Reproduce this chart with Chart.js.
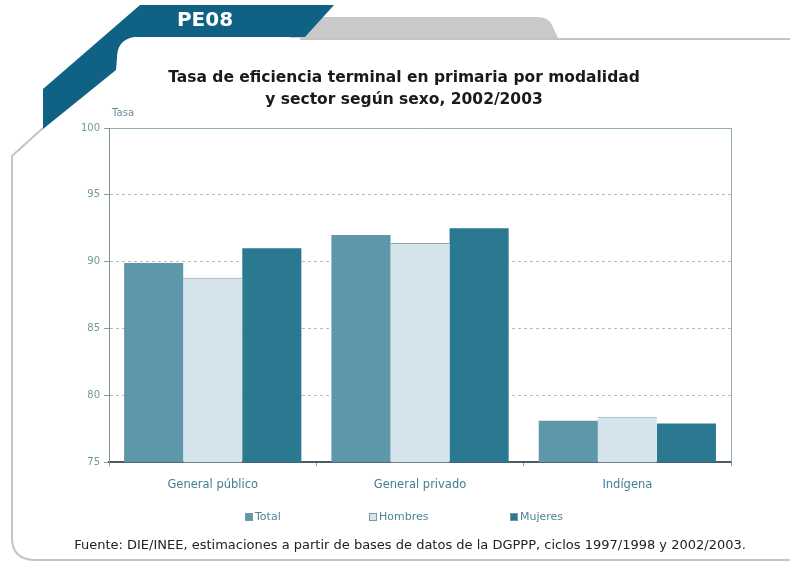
<!DOCTYPE html>
<html>
<head>
<meta charset="utf-8">
<script src="https://cdn.jsdelivr.net/npm/chart.js@4.4.1/dist/chart.umd.min.js"></script>
<style>
    html, body { margin: 0; padding: 0; background: #fff; }
    #wrap { position: relative; width: 790px; height: 563px; overflow: hidden; }
    #chart { position: absolute; left: 0; top: 0; }
    #code { position: absolute; left: 150px; top: 7px; width: 110px; text-align: center;
        font: bold 20px "DejaVu Sans", sans-serif; color: #fff; }
    #source { position: absolute; left: 0; top: 537px; width: 820px; text-align: center;
        font: 13px "DejaVu Sans", sans-serif; color: #222; white-space: nowrap; }
</style>
</head>
<body>
<div id="wrap">
    <canvas id="chart" width="790" height="563"></canvas>
    <div id="code">PE08</div>
    <div id="source">Fuente: DIE/INEE, estimaciones a partir de bases de datos de la DGPPP, ciclos 1997/1998 y 2002/2003.</div>
</div>
<script>
const categories = ['General público', 'General privado', 'Indígena'];
const seriesNames = ['Total', 'Hombres', 'Mujeres'];
const totalValues = [89.9, 92.0, 78.1];
const hombresValues = [88.8, 91.4, 78.4];
const mujeresValues = [91.0, 92.5, 77.9];
const yTicks = [75, 80, 85, 90, 95, 100];

const seriesColors = ['#5e96aa', '#d5e3eb', '#2a7990'];
const legendX = [245, 369, 510];

// panel frame, banner and grey tab behind the chart
const framePlugin = {
    id: 'frame',
    beforeDraw(chart) {
        const ctx = chart.ctx;
        ctx.save();
        ctx.fillStyle = '#fff';
        ctx.fillRect(0, 0, chart.width, chart.height);

        // grey tab
        ctx.fillStyle = '#c9c9c9';
        ctx.beginPath();
        ctx.moveTo(290, 17);
        ctx.lineTo(538, 17);
        ctx.quadraticCurveTo(548, 17, 552, 25);
        ctx.lineTo(558, 38);
        ctx.lineTo(290, 38);
        ctx.closePath();
        ctx.fill();

        // panel outline
        ctx.strokeStyle = '#c4c4c4';
        ctx.lineWidth = 2;
        ctx.beginPath();
        ctx.moveTo(790, 39);
        ctx.lineTo(300, 39);
        ctx.stroke();
        ctx.beginPath();
        ctx.moveTo(43, 128);
        ctx.lineTo(12, 156);
        ctx.lineTo(12, 538);
        ctx.quadraticCurveTo(12, 560, 36, 560);
        ctx.lineTo(790, 560);
        ctx.stroke();

        // dark banner
        ctx.fillStyle = '#0f6283';
        ctx.beginPath();
        ctx.moveTo(43, 129);
        ctx.lineTo(43, 89);
        ctx.lineTo(140, 5);
        ctx.lineTo(334, 5);
        ctx.lineTo(305, 37);
        ctx.lineTo(134, 37);
        ctx.quadraticCurveTo(117, 40, 117, 58);
        ctx.lineTo(116, 70);
        ctx.closePath();
        ctx.fill();
        ctx.restore();
    },
    afterDatasetsDraw(chart) {
        const ctx = chart.ctx;
        const a = chart.chartArea;
        ctx.save();
        ctx.strokeStyle = '#93adb6';
        ctx.lineWidth = 1;
        ctx.beginPath();
        ctx.moveTo(a.right + 0.5, a.top);
        ctx.lineTo(a.right + 0.5, a.bottom);
        ctx.stroke();
        ctx.restore();
    },
    afterDraw(chart) {
        const ctx = chart.ctx;
        const a = chart.chartArea;
        ctx.save();
        ctx.font = '10px "DejaVu Sans", sans-serif';
        ctx.fillStyle = '#6d8c9a';
        ctx.textBaseline = 'middle';
        ctx.fillText('Tasa', a.left + 3, a.top - 15);

        // legend
        ctx.font = '11px "DejaVu Sans", sans-serif';
        chart.data.datasets.forEach((ds, i) => {
            const x = legendX[i];
            const y = 517;
            ctx.fillStyle = ds.backgroundColor;
            ctx.fillRect(x, y - 4, 8, 8);
            ctx.strokeStyle = '#7e97a2';
            ctx.lineWidth = 1;
            ctx.strokeRect(x + 0.5, y - 3.5, 7, 7);
            ctx.fillStyle = '#4d8798';
            ctx.fillText(ds.label, x + 10, y);
        });
        ctx.restore();
    }
};

new Chart(document.getElementById('chart'), {
    type: 'bar',
    data: {
        labels: categories,
        datasets: [
            { label: seriesNames[0], data: totalValues, backgroundColor: seriesColors[0] },
            { label: seriesNames[1], data: hombresValues, backgroundColor: seriesColors[1],
                borderColor: '#8fa2aa', borderWidth: { top: 1 } },
            { label: seriesNames[2], data: mujeresValues, backgroundColor: seriesColors[2] }
        ]
    },
    options: {
        responsive: false,
        animation: false,
        layout: { padding: { left: 77, right: 59, top: 67, bottom: 59 } },
        datasets: {
            bar: { categoryPercentage: 0.855, barPercentage: 1.0 }
        },
        plugins: {
            legend: { display: false },
            tooltip: { enabled: false },
            title: {
                display: true,
                text: ['Tasa de eficiencia terminal en primaria por modalidad',
                    'y sector según sexo, 2002/2003'],
                color: '#1a1a1a',
                font: { family: '"DejaVu Sans", sans-serif', size: 15.5, weight: 'bold', lineHeight: 1.42 },
                padding: { top: 0, bottom: 17 }
            }
        },
        scales: {
            x: {
                grid: {
                    display: true,
                    drawOnChartArea: false,
                    offset: true,
                    tickLength: 4,
                    tickColor: '#8a9aa2'
                },
                border: { color: '#4e5b64', width: 2 },
                ticks: {
                    color: '#3f7f94',
                    padding: 12,
                    font: { family: '"DejaVu Sans", sans-serif', size: 11.5 }
                }
            },
            y: {
                min: yTicks[0],
                max: yTicks[yTicks.length - 1],
                afterBuildTicks(scale) {
                    scale.ticks = yTicks.map(v => ({ value: v }));
                },
                grid: {
                    color: ctx => (ctx.tick && ctx.tick.value === 100) ? '#8fadb6' : '#b9b9b9',
                    tickColor: '#8a9aa2',
                    tickLength: 5
                },
                border: {
                    color: '#7e93a2',
                    width: 1,
                    dash: ctx => (ctx.type === 'tick' && ctx.tick.value !== 100) ? [3, 3] : []
                },
                ticks: {
                    color: '#6f9c8a',
                    padding: 4,
                    font: { family: '"DejaVu Sans", sans-serif', size: 10 }
                }
            }
        }
    },
    plugins: [framePlugin]
});
</script>
</body>
</html>
